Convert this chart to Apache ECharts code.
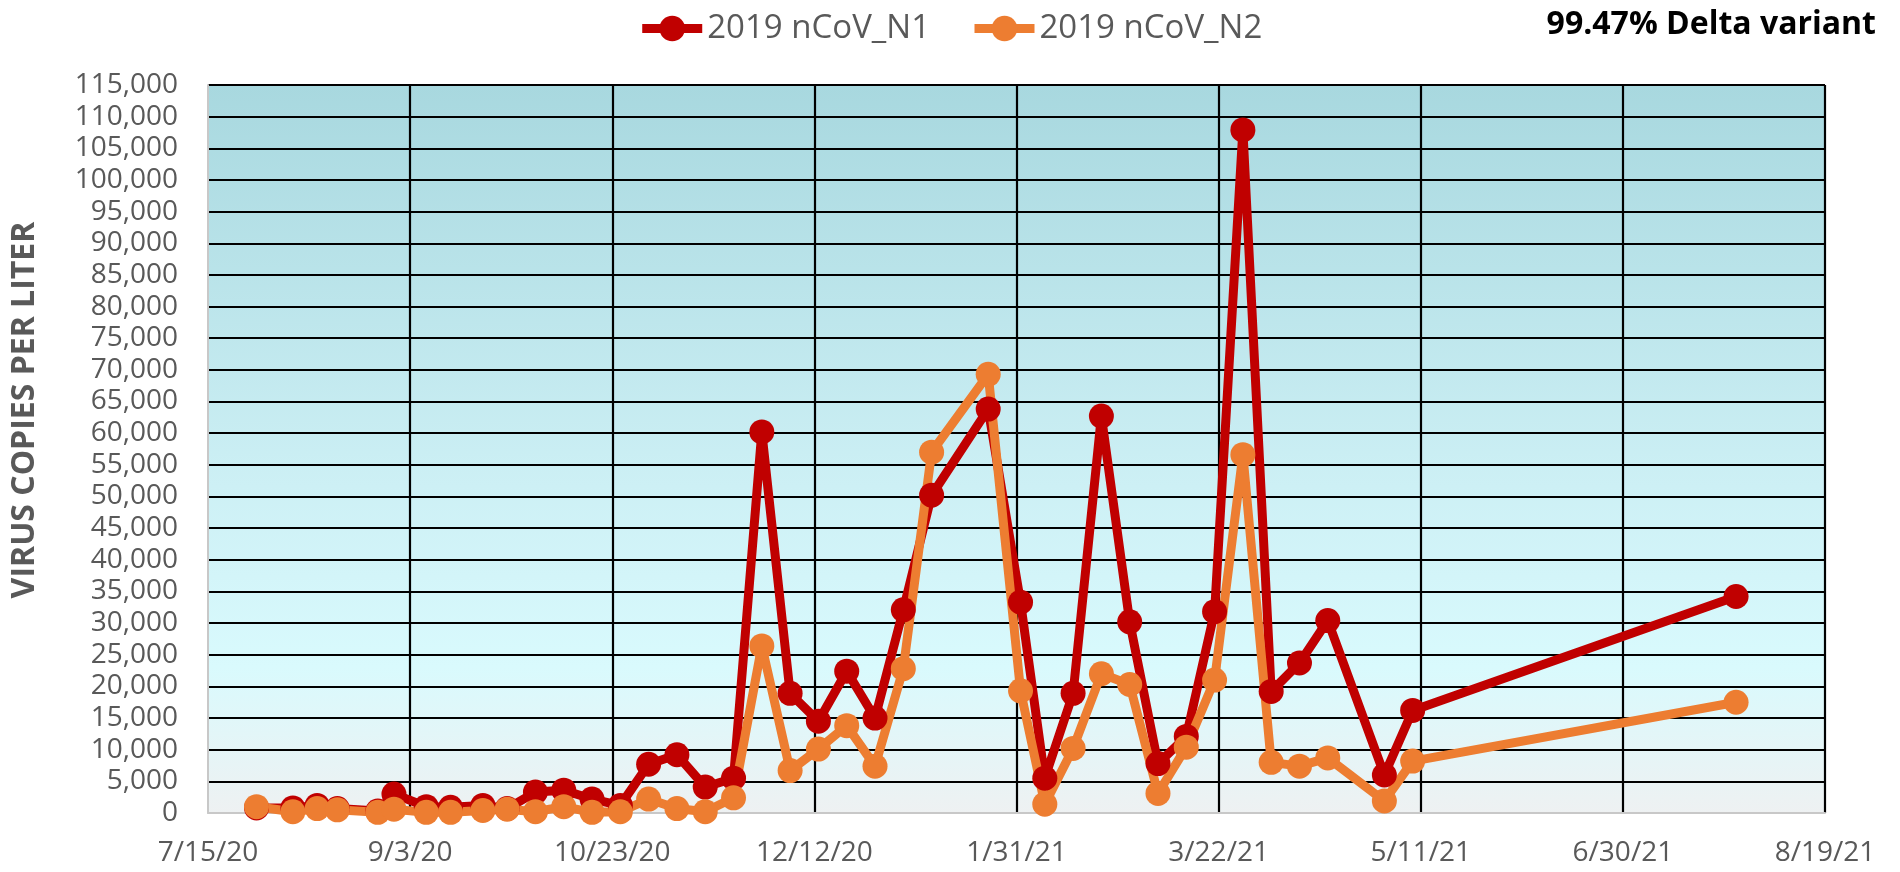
<!DOCTYPE html>
<html>
<head>
<meta charset="utf-8">
<script src="https://cdn.jsdelivr.net/npm/echarts@6/dist/echarts.min.js"></script>
<style>
  html, body { margin: 0; padding: 0; background: #ffffff; }
  #chart { width: 1900px; height: 872px; }
</style>
</head>
<body>
<div id="chart"></div>
<script>
// ---- Data ----
const sampleDates = [
  '2020-07-27','2020-08-05','2020-08-11','2020-08-16','2020-08-26','2020-08-30',
  '2020-09-07','2020-09-13','2020-09-21','2020-09-27','2020-10-04','2020-10-11',
  '2020-10-18','2020-10-25','2020-11-01','2020-11-08','2020-11-15','2020-11-22',
  '2020-11-29','2020-12-06','2020-12-13','2020-12-20','2020-12-27','2021-01-03',
  '2021-01-10','2021-01-24','2021-02-01','2021-02-07','2021-02-14','2021-02-21',
  '2021-02-28','2021-03-07','2021-03-14','2021-03-21','2021-03-28','2021-04-04',
  '2021-04-11','2021-04-18','2021-05-02','2021-05-09','2021-07-28'
];
const n1Values = [
  800, 800, 1200, 700, 300, 3000,
  1000, 900, 1200, 700, 3300, 3600,
  2200, 1200, 7700, 9200, 4100, 5500,
  60200, 18900, 14500, 22400, 15000, 32100,
  50200, 63800, 33300, 5500, 18900, 62700,
  30200, 7800, 12100, 31800, 107900, 19200,
  23700, 30400, 6000, 16200, 34200
];
const n2Values = [
  1000, 200, 700, 500, 100, 600,
  100, 100, 400, 600, 200, 1000,
  100, 200, 2200, 700, 200, 2400,
  26400, 6700, 10100, 13800, 7400, 22800,
  57000, 69300, 19300, 1400, 10200, 22000,
  20300, 3100, 10400, 21000, 56600, 8000,
  7400, 8700, 1900, 8200, 17500
];
const seriesNames = ['2019 nCoV_N1', '2019 nCoV_N2'];
const axisStartDate = '2020-07-15';
const axisEndDate = '2021-08-19';
const xTickDays = 50;
const yMax = 115000;
const yStep = 5000;
const yAxisTitle = 'VIRUS COPIES PER LITER';
const noteText = '99.47% Delta variant';

// ---- Helpers ----
const DAY = 86400000;
const base = Date.parse(axisStartDate);
const toDay = s => Math.round((Date.parse(s) - base) / DAY);
const fmtDate = v => {
  const d = new Date(base + v * DAY);
  return (d.getUTCMonth() + 1) + '/' + d.getUTCDate() + '/' + String(d.getUTCFullYear() % 100).padStart(2, '0');
};
const fmtNum = v => v.toString().replace(/\B(?=(\d{3})+(?!\d))/g, ',');
const pairs = vals => sampleDates.map((s, i) => [toDay(s), vals[i]]);

const FONT = "'Open Sans', 'DejaVu Sans', sans-serif";
const GREY = '#595959';

const chart = echarts.init(document.getElementById('chart'), null, { renderer: 'canvas' });
const option = {
  backgroundColor: '#ffffff',
  animation: false,
  textStyle: { fontFamily: FONT },
  legend: {
    top: 7,
    left: 'center',
    itemWidth: 60,
    itemHeight: 32,
    itemGap: 40,
    lineStyle: { width: 9 },
    textStyle: { fontFamily: FONT, fontSize: 33, color: GREY },
    data: seriesNames
  },
  grid: {
    left: 208, right: 75, top: 85, bottom: 59,
    show: true,
    borderWidth: 0,
    outerBoundsMode: 'none',
    backgroundColor: new echarts.graphic.LinearGradient(0, 0, 0, 1, [
      { offset: 0, color: '#a8d8df' },
      { offset: 0.55, color: '#cdf0f5' },
      { offset: 0.8, color: '#d9fafd' },
      { offset: 1, color: '#eef1f2' }
    ])
  },
  xAxis: {
    type: 'value',
    min: 0,
    max: toDay(axisEndDate),
    interval: xTickDays,
    axisLine: { show: true, lineStyle: { color: '#c8c8c8', width: 2 } },
    axisTick: { show: false },
    axisLabel: { formatter: fmtDate, fontFamily: FONT, fontSize: 28, color: GREY, margin: 26 },
    splitLine: { show: true, showMinLine: false, lineStyle: { color: '#000000', width: 2.2 } }
  },
  yAxis: {
    type: 'value',
    min: 0,
    max: yMax,
    interval: yStep,
    axisLine: { show: true, lineStyle: { color: '#c8c8c8', width: 2 } },
    axisTick: { show: false },
    axisLabel: { formatter: fmtNum, fontFamily: FONT, fontSize: 28, color: GREY, margin: 30 },
    splitLine: { show: true, showMinLine: false, lineStyle: { color: '#000000', width: 2.2 } }
  },
  graphic: [
    {
      type: 'text',
      x: 25, y: 410,
      rotation: Math.PI / 2,
      style: {
        text: yAxisTitle,
        fontFamily: FONT, fontSize: 32, fontWeight: 'bold', fill: GREY,
        align: 'center', verticalAlign: 'middle'
      }
    },
    {
      type: 'text',
      right: 24, top: 9,
      style: {
        text: noteText,
        fontFamily: FONT, fontSize: 32, fontWeight: 'bold', fill: '#000000'
      }
    }
  ],
  series: [
    {
      name: seriesNames[0],
      type: 'line',
      data: pairs(n1Values),
      symbol: 'circle',
      symbolSize: 25,
      color: '#c00000',
      lineStyle: { width: 9, color: '#c00000' },
      itemStyle: { color: '#c00000' }
    },
    {
      name: seriesNames[1],
      type: 'line',
      data: pairs(n2Values),
      symbol: 'circle',
      symbolSize: 25,
      color: '#ed7d31',
      lineStyle: { width: 9, color: '#ed7d31' },
      itemStyle: { color: '#ed7d31' }
    }
  ]
};
chart.setOption(option);
</script>
</body>
</html>
